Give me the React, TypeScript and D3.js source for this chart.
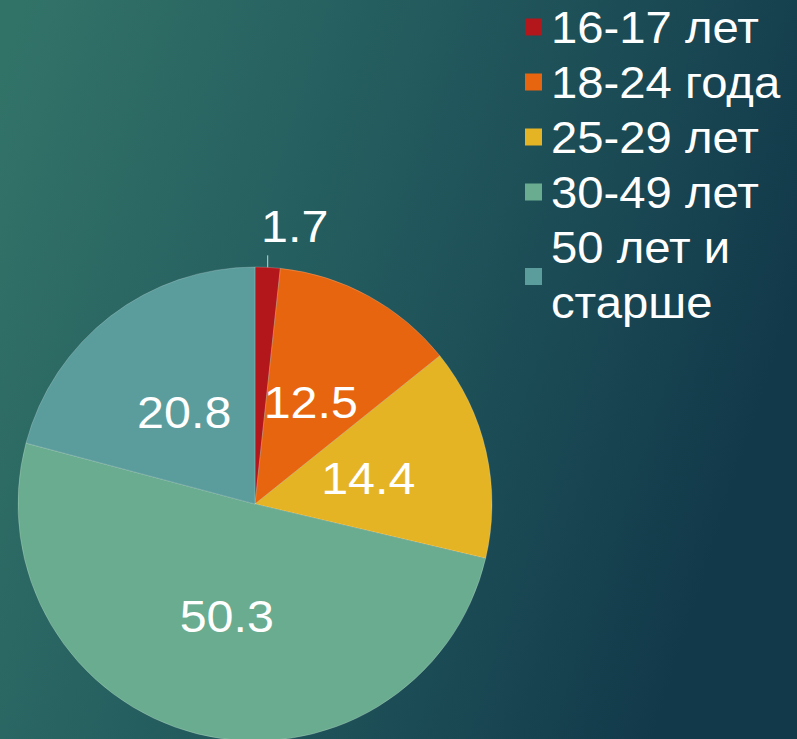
import React from "react";
import * as d3 from "d3";

const categories = ["16-17 лет", "18-24 года", "25-29 лет", "30-49 лет", "50 лет и старше"];
const values = [1.7, 12.5, 14.4, 50.3, 20.8];
const colors = ["#b3161b", "#e8650f", "#e5b425", "#6aac8f", "#5b9d9d"];
const legendLines = [["16-17 лет"], ["18-24 года"], ["25-29 лет"], ["30-49 лет"], ["50 лет и", "старше"]];

const W = 797;
const H = 739;

export default function App() {
  const cx = 255;
  const cy = 504;
  const r = 237;
  const pie = d3.pie<number>().sort(null).value((d) => d)(values);
  const arc = d3.arc<d3.PieArcDatum<number>>().innerRadius(0).outerRadius(r);
  const labelArc = d3.arc<d3.PieArcDatum<number>>().innerRadius(r * 0.49).outerRadius(r * 0.49);

  const fontFamily = "'Liberation Sans', Arial, sans-serif";
  const sx = 1.1;

  let baseline = 43;
  const lineH = 55;
  const legendItems = legendLines.map((lines, i) => {
    const first = baseline;
    baseline += lines.length * lineH;
    const last = first + (lines.length - 1) * lineH;
    const squareCy = lines.length === 1 ? first - 16 : (first + last) / 2 - 14;
    return { lines, first, squareCy, color: colors[i], key: categories[i] };
  });

  return (
    <svg width={W} height={H} style={{ position: "absolute", left: 0, top: 0, display: "block" }}>
      <defs>
        <linearGradient id="bg" x1="0" y1="0.1" x2="1" y2="0.4">
          <stop offset="0" stopColor="#327368" />
          <stop offset="0.5" stopColor="#22595d" />
          <stop offset="1" stopColor="#12394a" />
        </linearGradient>
      </defs>
      <rect x={0} y={0} width={W} height={H} fill="url(#bg)" />
      <g transform={`translate(${cx},${cy})`}>
        {pie.map((d, i) => (
          <path key={i} d={arc(d) || ""} fill={colors[i]} stroke="rgba(255,255,255,0.25)" strokeWidth={0.8} />
        ))}
        {pie.map((d, i) => {
          if (i === 0) {
            const a = (d.startAngle + d.endAngle) / 2;
            const x = Math.sin(a) * r;
            const y0 = -Math.cos(a) * r;
            return (
              <g key={"l" + i}>
                <line x1={x} y1={y0} x2={x} y2={y0 - 12} stroke="#c8d0d0" strokeWidth={1} />
                <text
                  transform={`translate(${x + 27},${y0 - 25}) scale(${sx},1)`}
                  textAnchor="middle"
                  fill="#ffffff"
                  fontSize={44}
                  fontFamily={fontFamily}
                >
                  {String(values[i])}
                </text>
              </g>
            );
          }
          const [lx, ly] = labelArc.centroid(d);
          return (
            <text
              key={"l" + i}
              transform={`translate(${lx},${ly}) scale(${sx},1)`}
              textAnchor="middle"
              dy="0.36em"
              fill="#ffffff"
              fontSize={44}
              fontFamily={fontFamily}
            >
              {String(values[i])}
            </text>
          );
        })}
      </g>
      <g>
        {legendItems.map((it) => (
          <g key={it.key}>
            <rect x={525} y={it.squareCy - 8.5} width={17} height={17} fill={it.color} />
            {it.lines.map((ln, j) => (
              <text
                key={j}
                transform={`translate(551,${it.first + j * lineH}) scale(1.05,1)`}
                fill="#ffffff"
                fontSize={45}
                fontFamily={fontFamily}
              >
                {ln}
              </text>
            ))}
          </g>
        ))}
      </g>
    </svg>
  );
}
